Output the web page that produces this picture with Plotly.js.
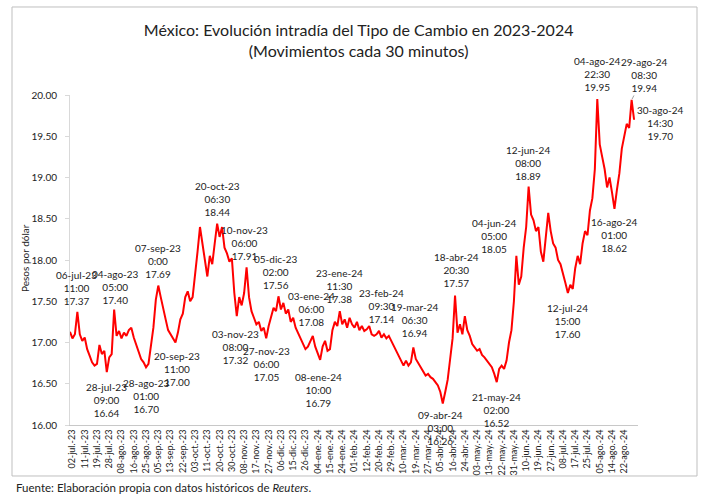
<!DOCTYPE html>
<html>
<head>
<meta charset="utf-8">
<script src="https://cdn.plot.ly/plotly-3.0.1.min.js"></script>
<style>
  html, body { margin: 0; padding: 0; background: #ffffff; }
  #chart { width: 706px; height: 499px; }
</style>
</head>
<body>
<div id="chart"></div>
<script>
// Category labels shown along the x axis (one every five samples)
const tickLabels = [
  '02-jul.-23', '11-jul.-23', '19-jul.-23', '28-jul.-23', '08-ago.-23', '16-ago.-23',
  '25-ago.-23', '05-sep.-23', '13-sep.-23', '22-sep.-23', '03-oct.-23', '11-oct.-23',
  '20-oct.-23', '30-oct.-23', '08-nov.-23', '17-nov.-23', '27-nov.-23', '06-dic.-23',
  '15-dic.-23', '26-dic.-23', '04-ene.-24', '15-ene.-24', '24-ene.-24', '01-feb.-24',
  '12-feb.-24', '20-feb.-24', '29-feb.-24', '10-mar.-24', '19-mar.-24', '27-mar.-24',
  '05-abr.-24', '16-abr.-24', '24-abr.-24', '03-may.-24', '13-may.-24', '22-may.-24',
  '31-may.-24', '10-jun.-24', '19-jun.-24', '27-jun.-24', '08-jul.-24', '17-jul.-24',
  '25-jul.-24', '05-ago.-24', '14-ago.-24', '22-ago.-24'
];

// Peso-dollar exchange rate, intraday observations (pesos per dollar)
const rate = [
  17.13, 17.05, 17.10, 17.37, 17.10, 17.02, 17.06, 16.92, 16.84, 16.76,
  16.72, 16.74, 16.97, 16.86, 16.90, 16.64, 16.82, 16.86, 17.40, 17.08,
  17.14, 17.05, 17.12, 17.08, 17.15, 17.18, 17.06, 16.98, 16.88, 16.80,
  16.76, 16.70, 16.74, 16.95, 17.18, 17.52, 17.69, 17.55, 17.40, 17.28,
  17.15, 17.10, 17.06, 17.00, 17.12, 17.28, 17.35, 17.55, 17.62, 17.50,
  17.55, 17.80, 18.10, 18.40, 18.20, 18.00, 17.80, 18.05, 17.95, 18.20,
  18.44, 18.28, 18.40, 18.15, 18.08, 17.98, 18.02, 17.60, 17.32, 17.55,
  17.45, 17.60, 17.91, 17.55, 17.38, 17.30, 17.22, 17.25, 17.14, 17.18,
  17.05, 17.20, 17.30, 17.42, 17.38, 17.56, 17.40, 17.48, 17.35, 17.40,
  17.25, 17.30, 17.18, 17.12, 17.05, 16.98, 16.92, 16.95, 17.02, 17.08,
  16.95, 16.88, 16.79, 16.95, 17.02, 16.90, 16.92, 17.15, 17.25, 17.20,
  17.38, 17.22, 17.28, 17.18, 17.30, 17.22, 17.18, 17.25, 17.15, 17.20,
  17.14, 17.16, 17.20, 17.10, 17.08, 17.10, 17.14, 17.06, 17.10, 17.05,
  17.08, 17.02, 16.96, 16.90, 16.85, 16.80, 16.72, 16.78, 16.72, 16.76,
  16.94, 16.80, 16.75, 16.70, 16.66, 16.60, 16.62, 16.58, 16.56, 16.52,
  16.48, 16.40, 16.26, 16.40, 16.55, 16.80, 17.05, 17.57, 17.12, 17.22,
  17.10, 17.32, 17.15, 17.08, 16.98, 16.94, 16.90, 16.92, 16.85, 16.82,
  16.78, 16.74, 16.70, 16.62, 16.52, 16.68, 16.72, 16.68, 16.78, 17.00,
  17.15, 17.50, 18.05, 17.70, 17.80, 18.15, 18.40, 18.89, 18.55, 18.48,
  18.35, 18.40, 18.10, 17.98, 18.30, 18.57, 18.35, 18.20, 18.15, 18.00,
  17.95, 17.85, 17.72, 17.60, 17.70, 17.65, 17.90, 18.05, 17.95, 18.20,
  18.35, 18.30, 18.60, 18.75, 19.10, 19.95, 19.40, 19.25, 19.10, 18.88,
  19.00, 18.82, 18.62, 18.85, 19.05, 19.35, 19.50, 19.65, 19.60, 19.94,
  19.70
];

// Highlighted highs and lows: sample position, date and hour of the quote
const noteIndex = [3, 15, 18, 31, 36, 43, 60, 68, 72, 80, 85, 99, 102, 110, 126,
                   140, 152, 157, 174, 182, 187, 203, 215, 222, 229, 230];
const noteDate = ['06-jul-23', '28-jul-23', '04-ago-23', '28-ago-23', '07-sep-23',
                  '20-sep-23', '20-oct-23', '03-nov-23', '10-nov-23', '27-nov-23',
                  '05-dic-23', '03-ene-24', '08-ene-24', '23-ene-24', '23-feb-24',
                  '19-mar-24', '09-abr-24', '18-abr-24', '21-may-24', '04-jun-24',
                  '12-jun-24', '12-jul-24', '04-ago-24', '16-ago-24', '29-ago-24',
                  '30-ago-24'];
const noteTime = ['11:00', '09:00', '05:00', '01:00', '0:00', '11:00', '06:30', '08:00',
                  '06:00', '06:00', '02:00', '06:00', '10:00', '11:30', '09:30', '06:30',
                  '03:00', '20:30', '02:00', '05:00', '08:00', '15:00', '22:30', '01:00',
                  '08:30', '14:30'];

// Where each note sits relative to its point: [dx, dy] in pixels (dy downward)
const noteOffset = [
  [-1, -24], [0, 28], [1, -23], [0, 29], [0, -25], [2, 26], [0, -25], [-1, 31],
  [-2, -24], [0, 26], [-2, -24], [-1, -27], [-2, 30], [0, -25], [2, -25], [1, -27],
  [-2, 24], [1, -25], [0, 28], [-22, -20], [-1, -24], [0, 28], [0, -25], [0, 26],
  [13, -25], [26, 3]
];

const xs = rate.map((_, i) => i);
const tickVals = tickLabels.map((_, k) => 1 + 5 * k);

const TEXT = '#222222';
const FONT = 'Lato, "Open Sans", sans-serif';

const annotations = noteIndex.map((idx, n) => {
  const [dx, dy] = noteOffset[n];
  const txt = noteDate[n] + '<br>' + noteTime[n] + '<br>' + rate[idx].toFixed(2);
  const base = {
    x: idx, y: rate[idx], xref: 'x', yref: 'y', text: txt,
    font: { family: FONT, size: 10, color: TEXT },
    align: 'center', xanchor: 'center', yanchor: 'middle'
  };
  if (noteDate[n] === '29-ago-24') {
    return Object.assign(base, {
      showarrow: true, arrowhead: 0, arrowwidth: 0.8, arrowcolor: '#8c8c8c',
      ax: dx, ay: dy, standoff: 1
    });
  }
  return Object.assign(base, { showarrow: false, xshift: dx, yshift: -dy });
});

// Vertical axis caption
annotations.push({
  xref: 'paper', yref: 'paper', x: -0.0792, y: 0.506,
  xanchor: 'center', yanchor: 'middle', showarrow: false, textangle: -90,
  text: 'Pesos por dólar',
  font: { family: FONT, size: 10, color: TEXT }
});

// Source line under the chart
annotations.push({
  xref: 'paper', yref: 'paper', x: -0.0986, y: -0.188,
  xanchor: 'left', yanchor: 'middle', showarrow: false,
  text: 'Fuente: Elaboración propia con datos históricos de <i>Reuters</i>.',
  font: { family: FONT, size: 11.5, color: TEXT }
});

const traces = [{
  type: 'scatter', mode: 'lines', x: xs, y: rate,
  line: { color: '#ff0000', width: 2 },
  hoverinfo: 'skip'
}];

const layout = {
  width: 706, height: 499,
  margin: { l: 70, r: 68, t: 95, b: 74, pad: 0 },
  paper_bgcolor: '#ffffff', plot_bgcolor: '#ffffff',
  showlegend: false,
  font: { family: FONT, color: TEXT },
  title: {
    text: 'México: Evolución intradía del Tipo de Cambio en 2023-2024<br>(Movimientos cada 30 minutos)',
    font: { family: FONT, size: 16, color: TEXT },
    xref: 'container', yref: 'container', x: 0.508, y: 0.928,
    xanchor: 'center', yanchor: 'middle'
  },
  xaxis: {
    range: [0, 231.6], tickmode: 'array', tickvals: tickVals, ticktext: tickLabels,
    tickangle: -90, tickfont: { family: FONT, size: 9, color: TEXT },
    showgrid: false, zeroline: false, showline: true, linecolor: '#c8c8c8', linewidth: 1,
    ticks: '', fixedrange: true
  },
  yaxis: {
    range: [16, 20], tickmode: 'array', tickvals: [16, 16.5, 17, 17.5, 18, 18.5, 19, 19.5, 20],
    tickformat: '.2f', tickfont: { family: FONT, size: 10, color: TEXT },
    showgrid: false, zeroline: false, showline: true, linecolor: '#d9d9d9', linewidth: 1,
    ticks: 'outside', ticklen: 4, tickcolor: '#d9d9d9', ticklabelstandoff: 6,
    fixedrange: true
  },
  shapes: [{
    type: 'rect', xref: 'paper', yref: 'paper',
    x0: -0.1021, x1: 1.1039, y0: -0.1545, y1: 1.2667,
    line: { color: '#bfbfbf', width: 1 }, fillcolor: 'rgba(0,0,0,0)', layer: 'below'
  }],
  annotations: annotations
};

Plotly.newPlot('chart', traces, layout, { staticPlot: true, displayModeBar: false });
</script>
</body>
</html>
